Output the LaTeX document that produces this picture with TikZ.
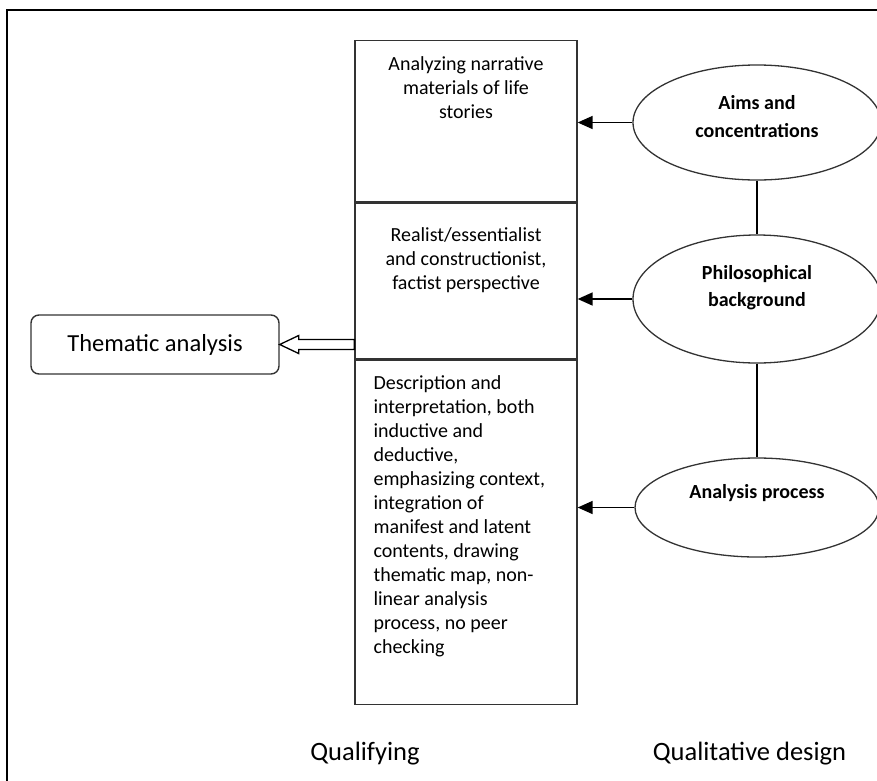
\documentclass[tikz,border=0pt]{standalone}
\usepackage{fontspec}
\setmainfont{Carlito}
\usetikzlibrary{arrows.meta,shapes.geometric,positioning,calc}
\tikzset{>={Triangle[length=15pt,width=13pt]}}
\tikzset{
  cell/.style={draw=black!80,line width=1.3pt,minimum width=222pt,anchor=north,inner sep=0pt},
  oval/.style={ellipse,draw=black!80,line width=1.3pt,inner sep=0pt},
  celltext/.style={font=\fontsize{20}{24}\selectfont,inner sep=0pt},
  ovaltext/.style={font=\fontsize{20}{27.5}\selectfont\bfseries,align=center,inner sep=0pt},
  caption/.style={font=\fontsize{26.5}{30}\selectfont,anchor=base}
}

\begin{document}
\begin{tikzpicture}[x=1pt,y=-1pt]
\useasboundingbox (0,0) rectangle (877,780);
\clip (0,0) rectangle (877,780);
% frame runs off the page
\draw[line width=2.6pt] (7,800) -- (7,10) -- (900,10);

\coordinate (T) at (466,40);
\node[cell,minimum height=161pt] (story) at (T) {};
\node[cell,minimum height=156pt] (realist) at (story.south) {};
\node[cell,minimum height=344pt] (process) at (realist.south) {};

\node[celltext,align=center,below=16pt of story.north] (storytext)
  {Analyzing narrative\\materials of life\\stories};
\node[celltext,align=center,below=25pt of realist.north] (realisttext)
  {Realist/essentialist\\and constructionist,\\factist perspective};
\node[celltext,align=left,below right=16pt and 19pt of process.north west] (processtext)
  {Description and\\interpretation, both\\inductive and\\deductive,\\emphasizing context,\\integration of\\manifest and latent\\contents, drawing\\thematic map, non-\\linear analysis\\process, no peer\\checking};

\node[oval,minimum width=248pt,minimum height=115pt] (aims) at (757,122.5) {};
\node[oval,minimum width=248pt,minimum height=128pt] (philo) at (757,299) {};
\node[oval,minimum width=244pt,minimum height=99pt] (analysis) at (757,507.5) {};
\node[ovaltext,yshift=6pt] (aimstext) at (aims) {Aims and\\concentrations};
\node[ovaltext,yshift=11.5pt] (philotext) at (philo) {Philosophical\\background};
\node[ovaltext,yshift=14.5pt] (analysistext) at (analysis) {Analysis process};

\draw[line width=1.3pt] (aims) -- (philo);
\draw[line width=1.3pt] (philo) -- (analysis);
\draw[->,line width=1.6pt] (aims) -- (aims -| story.east);
\draw[->,line width=1.6pt] (philo) -- (philo -| realist.east);
\draw[->,line width=1.6pt] (analysis) -- (analysis -| process.east);

\node[draw=black!80,line width=1.4pt,rounded corners=8pt,minimum width=248pt,
  minimum height=59pt,font=\fontsize{24.5}{30}\selectfont] (thematic) at (155,344.5)
  {Thematic analysis};
% hollow arrow into the box
\draw[line width=1.3pt,fill=white] (thematic.east) -- ++(19,-9) -- ++(0,4)
  -- ($(thematic.east -| realist.west)+(0,-5)$) -- ++(0,10)
  -- ($(thematic.east)+(19,5)$) -- ++(0,4) -- cycle;

\node[caption] (qualifying) at (365,760) {Qualifying};
\node[caption] (design) at (749.5,760) {Qualitative design};
\end{tikzpicture}
\end{document}
